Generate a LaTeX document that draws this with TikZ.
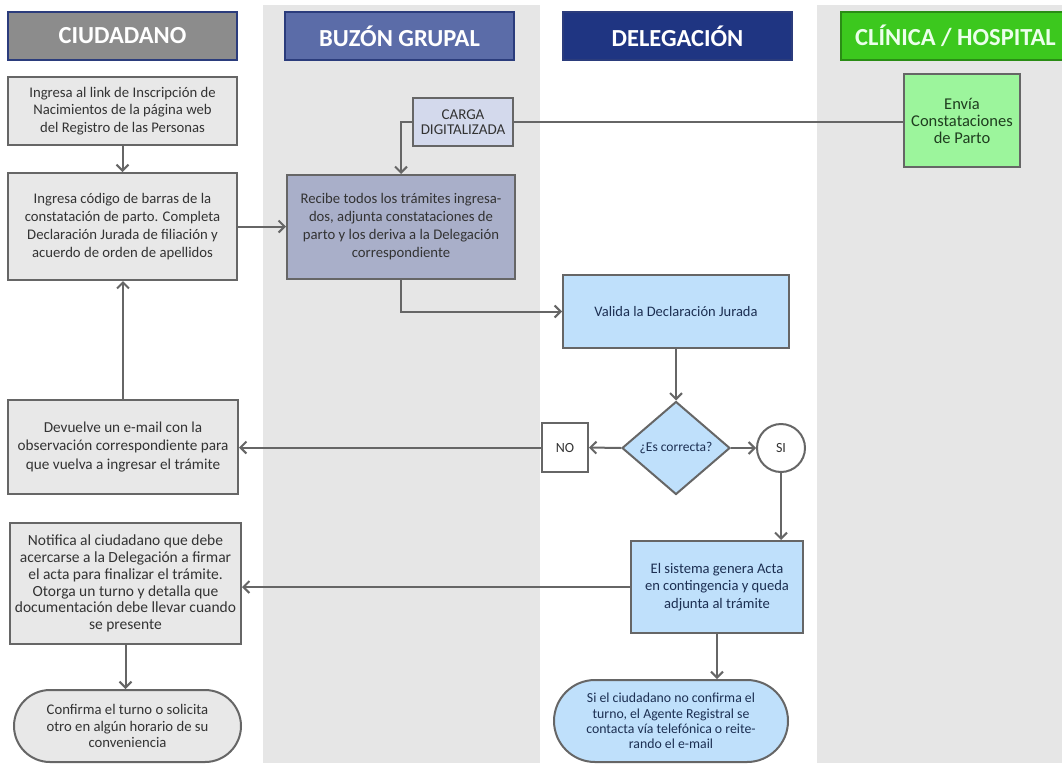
\documentclass[tikz,border=0pt]{standalone}
\usepackage{fontspec}
\setmainfont{Carlito}
\usetikzlibrary{arrows.meta,shapes.geometric,shapes.misc}
\definecolor{lanegray}{HTML}{E6E6E6}
\definecolor{navyb}{HTML}{2B3C7C}
\definecolor{hgray}{HTML}{8C8C8C}
\definecolor{hbuzon}{HTML}{5B6CA8}
\definecolor{hdeleg}{HTML}{1F3582}
\definecolor{hclin}{HTML}{3CC81E}
\definecolor{lgray}{HTML}{666666}
\definecolor{boxgray}{HTML}{E8E8E8}
\definecolor{cargafill}{HTML}{D3D9EC}
\definecolor{buzfill}{HTML}{A9AFC9}
\definecolor{greenfill}{HTML}{9CF59C}
\definecolor{bluefill}{HTML}{BFE0FB}
\definecolor{txtgray}{HTML}{333333}
\definecolor{txtblue}{HTML}{1C2F52}
\definecolor{txtgreen}{HTML}{1F3D1F}
\newcommand{\fs}[2]{\fontsize{#1}{#2}\selectfont}
\tikzset{
  hdr/.style={draw=navyb, line width=1.3pt, minimum width=229pt, minimum height=48pt,
    inner sep=0pt, text=white, font=\fs{24.5}{27}\bfseries},
  proc/.style={draw=lgray, line width=2pt, fill=boxgray, align=center, inner sep=1pt,
    text=txtgray, font=\fs{14.7}{18}},
  bluebox/.style={proc, fill=bluefill, text=txtblue},
  term/.style={proc, rounded rectangle},
  conn/.style={draw=lgray, line width=2pt},
  arr/.style={conn, -{Straight Barb[length=6pt,width=12pt]}}
}
\begin{document}
\begin{tikzpicture}[x=1pt,y=-1pt]
\useasboundingbox (0,0) rectangle (1062,763);
% lanes
\fill[lanegray] (263,5) rectangle (540,763);
\fill[lanegray] (817,5) rectangle (1062,763);
% headers
\node[hdr, fill=hgray] (h1) at (122.5,36) {CIUDADANO};
\node[hdr, fill=hbuzon] (h2) at (399.5,36) {BUZÓN GRUPAL};
\node[hdr, fill=hdeleg] (h3) at (677.5,36) {DELEGACIÓN};
\node[hdr, fill=hclin, draw=hclin!70!black, text=white!92!green] (h4) at (955.5,36) {CLÍNICA / HOSPITAL};
% nodes
\node[proc, font=\fs{14.7}{17.4}, minimum width=229pt, minimum height=68pt] (A) at (122.5,111)
  {Ingresa al link de Inscripción de\\Nacimientos de la página web\\del Registro de las Personas};
\node[proc, minimum width=229pt, minimum height=107pt] (B) at (122.5,226.5)
  {Ingresa código de barras de la\\constatación de parto. Completa\\Declaración Jurada de filiación y\\acuerdo de orden de apellidos};
\node[proc, fill=cargafill, font=\fs{15}{15}, inner sep=0pt, minimum width=100pt, minimum height=48pt] (carga) at (463,122)
  {CARGA\\DIGITALIZADA};
\node[proc, fill=buzfill, minimum width=228pt, minimum height=104pt] (C) at (401,227)
  {Recibe todos los trámites ingresa-\\dos, adjunta constataciones de\\parto y los deriva a la Delegación\\correspondiente};
\node[proc, fill=greenfill, text=txtgreen, font=\fs{16.5}{17}, minimum width=116pt, minimum height=93pt] (envia) at (962,120.5)
  {Envía\\Constataciones\\de Parto};
\node[bluebox, font=\fs{14.5}{17}, minimum width=226pt, minimum height=73pt] (valida) at (676,311.5)
  {Valida la Declaración Jurada};
\node[bluebox, diamond, font=\fs{13.5}{15}, inner sep=0pt, minimum width=108pt, minimum height=93pt] (dia) at (676,448)
  {¿Es correcta?};
\node[proc, fill=white, font=\fs{14}{16}, minimum width=46pt, minimum height=49pt] (no) at (565,447.5) {NO};
\node[proc, fill=white, font=\fs{14}{16}, circle, inner sep=0pt, minimum size=48pt] (si) at (781,448) {SI};
\node[proc, font=\fs{15.2}{18.5}, minimum width=230pt, minimum height=94pt] (dev) at (123,447)
  {Devuelve un e-mail con la\\observación correspondiente para\\que vuelva a ingresar el trámite};
\node[bluebox, font=\fs{14.6}{17.2}, minimum width=172pt, minimum height=92pt] (sis) at (717,587)
  {El sistema genera Acta\\en contingencia y queda\\adjunta al trámite};
\node[proc, font=\fs{15.5}{16.8}, minimum width=231pt, minimum height=121pt] (noti) at (125.5,583.5)
  {Notifica al ciudadano que debe\\acercarse a la Delegación a firmar\\el acta para finalizar el trámite.\\Otorga un turno y detalla que\\documentación debe llevar cuando\\se presente};
\node[term, font=\fs{14.7}{16.7}, minimum width=229pt, minimum height=72pt] (conf) at (127.5,726)
  {Confirma el turno o solicita\\otro en algún horario de su\\conveniencia};
\node[term, fill=bluefill, text=txtblue, font=\fs{13.8}{15.2}, minimum width=236pt, minimum height=82pt] (term2) at (671,721)
  {Si el ciudadano no confirma el\\turno, el Agente Registral se\\contacta vía telefónica o reite-\\rando el e-mail};
% connectors
\draw[arr] (A) -- (B);
\draw[arr] (B.east) -- (B.east -| C.west);
\draw[conn] (carga.east) -- (carga.east -| envia.west);
\draw[arr] (carga.west) -| (C.north);
\draw[arr] (C.south) |- (valida.west);
\draw[arr] (valida) -- (dia);
\draw[arr] (dia.west) -- (no.east);
\draw[arr] (no.west) -- (no.west -| dev.east);
\draw[arr] (dev.north) -- (dev.north |- B.south);
\draw[arr] (dia.east) -- (si.west);
\draw[arr] (si.south) -- (si.south |- sis.north);
\draw[arr] (sis.west) -- (sis.west -| noti.east);
\draw[arr] (sis.south) -- (sis.south |- term2.north);
\draw[arr] (noti.south) -- (noti.south |- conf.north);
\end{tikzpicture}
\end{document}
